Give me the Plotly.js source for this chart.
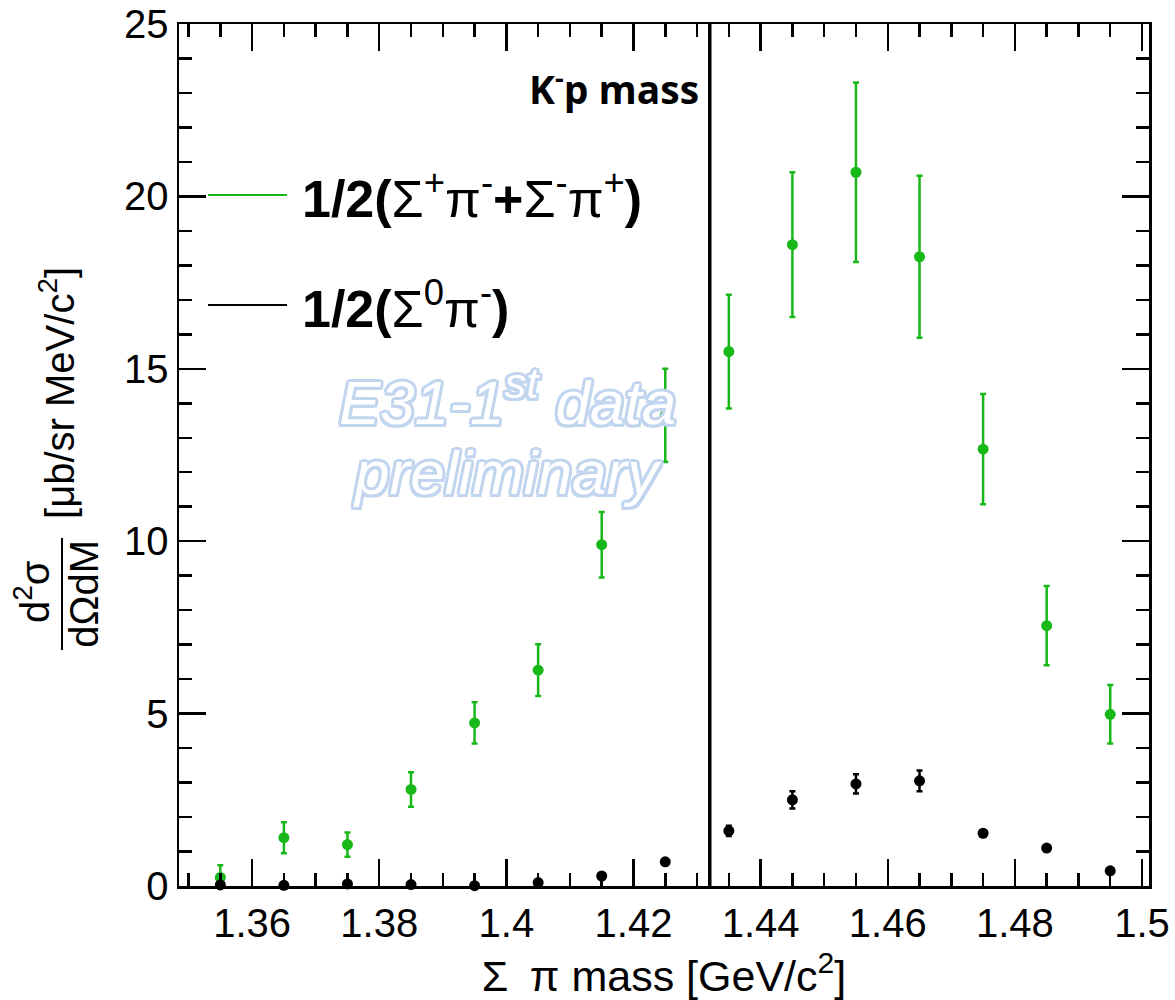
<!DOCTYPE html>
<html>
<head>
<meta charset="utf-8">
<script src="https://cdn.plot.ly/plotly-3.0.1.min.js"></script>
<style>
  html, body { margin: 0; padding: 0; background: #ffffff; }
  #chart { width: 1175px; height: 1000px; }
</style>
</head>
<body>
<div id="chart"></div>
<script>
// ---- data ----
const massBins = [1.355, 1.365, 1.375, 1.385, 1.395, 1.405, 1.415, 1.425,
                  1.435, 1.445, 1.455, 1.465, 1.475, 1.485, 1.495];

// 1/2(Sigma+ pi- + Sigma- pi+)
const chargedValues = [0.25, 1.40, 1.20, 2.80, 4.73, 6.26, 9.90, 13.65,
                       15.50, 18.60, 20.70, 18.25, 12.67, 7.55, 4.98];
const chargedErrors = [0.35, 0.45, 0.35, 0.50, 0.60, 0.75, 0.95, 1.35,
                       1.65, 2.10, 2.60, 2.35, 1.60, 1.15, 0.85];

// 1/2(Sigma0 pi-)
const neutralValues = [0.03, 0.02, 0.06, 0.04, 0.01, 0.10, 0.29, 0.70,
                       1.60, 2.50, 2.96, 3.05, 1.53, 1.10, 0.44];
const neutralErrors = [0.05, 0.05, 0.05, 0.05, 0.05, 0.05, 0.06, 0.08,
                       0.15, 0.25, 0.28, 0.30, 0.08, 0.07, 0.06];

const kpMass = 1.432;           // K- p threshold mass
const xRange = [1.3485, 1.5011];
const yRange = [0, 25];

const chargedLabel = '<b>1/2(</b>Σ<sup>+</sup>π<sup>-</sup><b>+</b>Σ<sup>-</sup>π<sup>+</sup><b>)</b>';
const neutralLabel = '<b>1/2(</b>Σ<sup>0</sup>π<sup>-</sup><b>)</b>';
const xTitle = 'Σ\u2002π mass [GeV/c<sup>2</sup>]';
const yTitleUnits = '[μb/sr MeV/c<sup>2</sup>]';
const yTitleNum = 'd<sup>2</sup>σ';
const yTitleDen = 'dΩdM';
const kpLabel = '<b>K<sup>-</sup>p mass</b>';
const watermark1 = 'E31-1<sup>st</sup> data';
const watermark2 = 'preliminary';

// ---- styles ----
const GREEN = '#17b817';
const FONT = 'Liberation Sans, Arial, Helvetica, sans-serif';
const WM = '#c2d5ef';
const outline = [
  '-2.5px -2.5px 0 ' + WM, '2.5px -2.5px 0 ' + WM, '-2.5px 2.5px 0 ' + WM, '2.5px 2.5px 0 ' + WM,
  '0 -3px 0 ' + WM, '0 3px 0 ' + WM, '-3px 0 0 ' + WM, '3px 0 0 ' + WM
].join(', ');

const traces = [
  {
    x: massBins, y: chargedValues, type: 'scatter', mode: 'markers',
    name: '1/2(Σ+π- + Σ-π+)', showlegend: false, cliponaxis: false,
    marker: { color: GREEN, size: 11 },
    error_y: { type: 'data', array: chargedErrors, color: GREEN, thickness: 2.5, width: 3 }
  },
  {
    x: massBins, y: neutralValues, type: 'scatter', mode: 'markers',
    name: '1/2(Σ0π-)', showlegend: false, cliponaxis: false,
    marker: { color: '#000000', size: 11 },
    error_y: { type: 'data', array: neutralErrors, color: '#000000', thickness: 2.5, width: 3 }
  }
];

const axisCommon = {
  showline: true, linecolor: '#000', linewidth: 2.5, mirror: 'ticks',
  showgrid: false, zeroline: false, ticks: 'inside', tickcolor: '#000',
  tickwidth: 2.5, ticklen: 27,
  tickfont: { family: FONT, size: 40, color: '#000' }
};

const layout = {
  width: 1175, height: 1000,
  margin: { l: 179, r: 26, t: 24, b: 114 },
  paper_bgcolor: '#ffffff', plot_bgcolor: '#ffffff',
  showlegend: false,
  xaxis: Object.assign({}, axisCommon, {
    range: xRange, tick0: 1.36, dtick: 0.02, tickformat: '~g',
    minor: { dtick: 0.005, tick0: 1.36, ticks: 'inside', ticklen: 13, tickwidth: 2.5, tickcolor: '#000' },
    title: { text: xTitle, font: { family: FONT, size: 43, color: '#000' }, standoff: 18 }
  }),
  yaxis: Object.assign({}, axisCommon, {
    range: yRange, tick0: 0, dtick: 5,
    minor: { dtick: 1, ticks: 'inside', ticklen: 13, tickwidth: 2.5, tickcolor: '#000' }
  }),
  shapes: [
    { type: 'line', xref: 'x', yref: 'paper', x0: kpMass, x1: kpMass, y0: 0, y1: 1,
      line: { color: '#000', width: 3.5 } },
    // legend line samples
    { type: 'line', xref: 'paper', yref: 'paper', x0: 0.0299, x1: 0.1113, y0: 0.8016, y1: 0.8016,
      line: { color: GREEN, width: 2 } },
    { type: 'line', xref: 'paper', yref: 'paper', x0: 0.0299, x1: 0.1113, y0: 0.674, y1: 0.674,
      line: { color: '#000', width: 2 } },
    // fraction bar of the y title
    { type: 'line', xref: 'paper', yref: 'paper', x0: -0.1206, x1: -0.1206, y0: 0.2738, y1: 0.4037,
      line: { color: '#000', width: 2 } }
  ],
  annotations: [
    { xref: 'paper', yref: 'paper', x: 0.1247, y: 0.8016, xanchor: 'left', yanchor: 'middle',
      text: chargedLabel, showarrow: false, font: { family: FONT, size: 52, color: '#000' } },
    { xref: 'paper', yref: 'paper', x: 0.1247, y: 0.674, xanchor: 'left', yanchor: 'middle',
      text: neutralLabel, showarrow: false, font: { family: FONT, size: 52, color: '#000' } },
    { xref: 'x', yref: 'paper', x: kpMass, xshift: -9, y: 0.927, xanchor: 'right', yanchor: 'middle',
      text: kpLabel, showarrow: false, font: { family: 'Open Sans, Lato, sans-serif', size: 39, color: '#000' } },
    { xref: 'paper', yref: 'paper', x: -0.1258, y: 0.572, xanchor: 'center', yanchor: 'middle',
      textangle: -90, text: yTitleUnits, showarrow: false, font: { family: FONT, size: 40, color: '#000' } },
    { xref: 'paper', yref: 'paper', x: -0.1515, y: 0.341, xanchor: 'center', yanchor: 'middle',
      textangle: -90, text: yTitleNum, showarrow: false, font: { family: FONT, size: 40, color: '#000' } },
    { xref: 'paper', yref: 'paper', x: -0.098, y: 0.339, xanchor: 'center', yanchor: 'middle',
      textangle: -90, text: yTitleDen, showarrow: false, font: { family: FONT, size: 40, color: '#000' } },
    { xref: 'paper', yref: 'paper', x: 0.339, y: 0.566, xanchor: 'center', yanchor: 'middle',
      text: watermark1, showarrow: false,
      font: { family: FONT, size: 62, color: '#ffffff', style: 'italic', shadow: outline } },
    { xref: 'paper', yref: 'paper', x: 0.339, y: 0.48, xanchor: 'center', yanchor: 'middle',
      text: watermark2, showarrow: false,
      font: { family: FONT, size: 62, color: '#ffffff', style: 'italic', shadow: outline } }
  ]
};

Plotly.newPlot('chart', traces, layout, { displayModeBar: false, staticPlot: true });
</script>
</body>
</html>
